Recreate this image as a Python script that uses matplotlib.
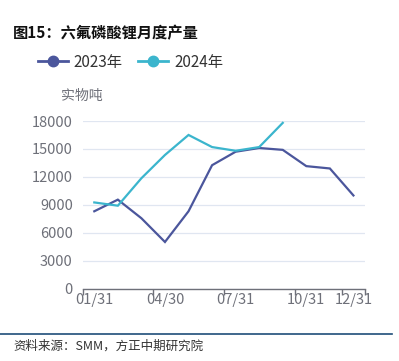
"""Monthly LiPF6 output, 2023 vs 2024."""

import matplotlib

matplotlib.use("Agg")
import matplotlib.pyplot as plt
from matplotlib.lines import Line2D

plt.rcParams["font.family"] = ["Noto Sans CJK SC", "DejaVu Sans"]

months = ["01/31", "02/28", "03/31", "04/30", "05/31", "06/30",
          "07/31", "08/31", "09/30", "10/31", "11/30", "12/31"]
output_2023 = [8300, 9550, 7550, 5000, 8300, 13250, 14700, 15100, 14900, 13150, 12900, 10000]
output_2024 = [9250, 8900, 11850, 14350, 16500, 15200, 14800, 15200, 17800]
shown_labels = ["01/31", "04/30", "07/31", "10/31", "12/31"]
y_ticks = [0, 3000, 6000, 9000, 12000, 15000, 18000]

c23 = "#4b569c"
c24 = "#3bb5cd"
axis_grey = "#6e7079"

fig = plt.figure(figsize=(3.99, 3.61), dpi=100)
ax = fig.add_axes([0.2068, 0.2008, 0.7085, 0.464])

x23 = list(range(len(output_2023)))
x24 = list(range(len(output_2024)))
ax.plot(x23, output_2023, color=c23, lw=1.6, solid_joinstyle="miter")
ax.plot(x24, output_2024, color=c24, lw=1.6, solid_joinstyle="miter")

ax.set_xlim(-0.5, len(months) - 0.5)
ax.set_ylim(0, 18000)
ax.set_yticks(y_ticks)
ax.set_yticklabels([str(v) for v in y_ticks])
ax.grid(axis="y", color="#e0e6f1", lw=0.9)
ax.set_axisbelow(True)
ax.tick_params(axis="y", length=0, pad=7, labelsize=10.5, labelcolor=axis_grey)

# category axis: ticks at boundaries, labels at category centres
label_pos = [months.index(m) for m in shown_labels]
ax.set_xticks([-0.5, 2.5, 5.5, 8.5, 10.5, 11.5])
ax.set_xticklabels([])
ax.set_xticks(label_pos, minor=True)
ax.set_xticklabels(shown_labels, minor=True)
ax.tick_params(axis="x", which="major", length=4.5, width=1, color=axis_grey, direction="out")
ax.tick_params(axis="x", which="minor", length=0, pad=3, labelsize=10.5, labelcolor=axis_grey)

for side in ("top", "right", "left"):
    ax.spines[side].set_visible(False)
ax.spines["bottom"].set_color(axis_grey)
ax.spines["bottom"].set_linewidth(1)

fig.text(13 / 399, 1 - 33 / 361, "图15：六氟磷酸锂月度产量", fontsize=11,
         fontweight="bold", va="center", ha="left", color="#111111")
fig.text(61 / 399, 1 - 96 / 361, "实物吨", fontsize=10, va="center", ha="left", color=axis_grey)

handles = [
    Line2D([], [], color=c23, lw=2, marker="o", markersize=7.5),
    Line2D([], [], color=c24, lw=2, marker="o", markersize=7.5),
]
fig.legend(handles, ["2023年", "2024年"], loc="center left",
           bbox_to_anchor=(38 / 399, 1 - 62 / 361), ncol=2, frameon=False,
           fontsize=11, labelcolor="#333333", handlelength=1.95, handletextpad=0.4,
           columnspacing=1.0, borderpad=0, borderaxespad=0)

fig.add_artist(Line2D([0, 392 / 399], [1 - 334 / 361] * 2, transform=fig.transFigure,
                      color="#1f4e79", lw=1.2))
fig.text(13 / 399, 1 - 346 / 361, "资料来源：SMM，方正中期研究院", fontsize=9,
         fontstyle="italic", va="center", ha="left", color="#333333")

fig.savefig("out.png", dpi=100)
plt.close(fig)
